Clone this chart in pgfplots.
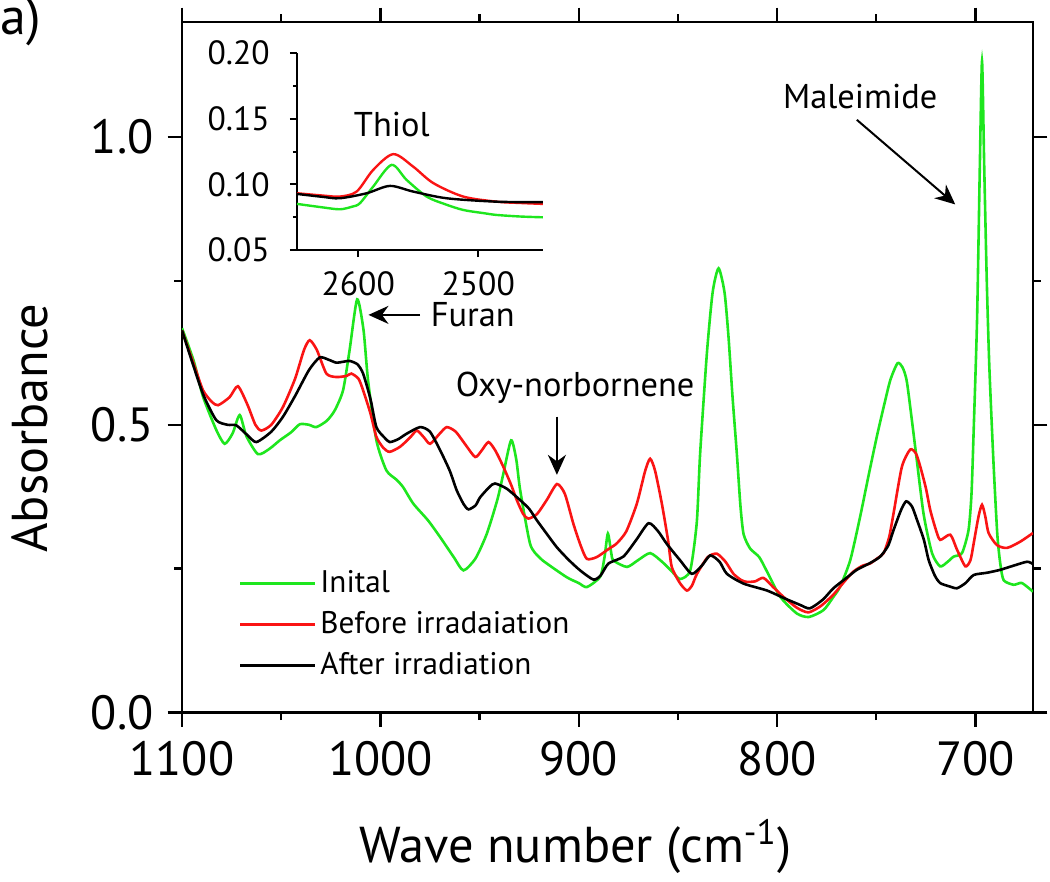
\documentclass[border=0pt]{standalone}
\usepackage{pgfplots}
\pgfplotsset{compat=1.18}
\usepackage{fontspec}
\setmainfont{PT Sans}
\usetikzlibrary{arrows.meta}
\definecolor{cgreen}{RGB}{30,230,30}
\definecolor{cred}{RGB}{250,20,20}
\begin{document}
\begin{tikzpicture}
\begin{axis}[
 at={(0pt,0pt)}, anchor=south west,
 scale only axis, width=212.75pt, height=172.625pt,
 xmin=671, xmax=1100, x dir=reverse,
 ymin=0, ymax=1.2,
 xtick={700,800,900,1000,1100},
 minor xtick={750,850,950,1050},
 ytick={0,0.5,1},
 minor ytick={0.25,0.75},
 tick align=outside,
 major tick length=3.6pt, minor tick length=1.9pt,
 axis line style={line width=0.6pt},
 every tick/.style={line width=0.6pt, black},
 /pgf/number format/assume math mode=true,
 xticklabel style={font=\fontsize{12}{14}\selectfont, /pgf/number format/1000 sep={}},
 yticklabel style={font=\fontsize{12}{14}\selectfont, /pgf/number format/.cd, fixed, fixed zerofill, precision=1},
 xlabel={Wave number (cm\textsuperscript{-1})},
 ylabel={Absorbance},
 label style={font=\fontsize{12.6}{15}\selectfont},
 xlabel style={at={(axis description cs:0.463,-0.2166)}, anchor=base},
 ylabel style={at={(axis description cs:-0.1575,0.412)}, anchor=base},
 legend style={at={(axis description cs:0.0658,0.2155)}, anchor=north west, draw=none, fill=none,
   inner sep=0pt, font=\fontsize{7.8}{9}\selectfont, row sep=0.6pt,
   nodes={inner sep=1pt, text height=6pt, text depth=1.6pt}},
 legend cell align=left,
 legend image code/.code={\draw[#1] (0pt,0pt) -- (18.75pt,0pt);},
 every axis plot/.append style={line width=0.65pt, smooth, tension=0.4},
]
\addplot[cgreen] coordinates {
(1100,0.668) (1094,0.610) (1089.4,0.549) (1082.7,0.491) (1078.5,0.467) (1074.5,0.485)
(1070.9,0.517) (1067.5,0.480) (1061.7,0.449) (1056,0.458) (1050.7,0.473) (1045,0.487)
(1040.6,0.501) (1036,0.500) (1032.3,0.496) (1027,0.507) (1023.0,0.525) (1018.8,0.56)
(1015.5,0.63) (1011.7,0.718) (1008.5,0.665) (1006.2,0.577) (1002.0,0.473) (997.0,0.421)
(992,0.405) (988.6,0.392) (983.4,0.363) (976,0.334) (969.9,0.305) (963,0.270) (958.1,0.247)
(952,0.268) (946.3,0.311) (941,0.370) (938.0,0.415) (934.1,0.473) (931.5,0.44) (929.5,0.386)
(924.5,0.293) (920,0.270) (916.1,0.259) (906.0,0.235) (900,0.225) (895.9,0.218) (889.2,0.236)
(887,0.270) (885.3,0.311) (883.5,0.275) (882.5,0.264) (875.7,0.253) (870,0.265) (864.0,0.277)
(858,0.262) (853,0.245) (848.9,0.232) (843.8,0.247) (840.5,0.33) (838.8,0.45) (835.4,0.624)
(832.5,0.73) (829.5,0.772) (826.5,0.73) (824.5,0.653) (822.5,0.55) (820.3,0.45) (818.5,0.36)
(816.9,0.31) (813.6,0.285) (809,0.27) (805.1,0.245) (798.4,0.201) (790.0,0.172) (784,0.166)
(776.6,0.178) (771.6,0.201) (768.2,0.219) (763.1,0.265) (758.1,0.341) (754,0.41) (749.7,0.480)
(746,0.535) (742.9,0.578) (739.3,0.607) (736.8,0.600) (734.5,0.573) (730.4,0.462) (726.2,0.346)
(721.9,0.277) (717.8,0.254) (714,0.262) (711.0,0.271) (706.8,0.277) (703.5,0.317) (702,0.38)
(700.9,0.491) (699.2,0.683) (697.8,0.95) (696.7,1.132) (695.6,0.95) (694.3,0.75) (693.0,0.60)
(690.9,0.433) (689,0.31) (687.5,0.259) (685.8,0.230) (680.8,0.222) (676.6,0.225) (671,0.210)
};
\addlegendentry{Inital}
\addplot[cred] coordinates {
(1100,0.664) (1094,0.605) (1089.4,0.56) (1085,0.540) (1081.8,0.534) (1076,0.548) (1071.8,0.567)
(1067,0.535) (1063,0.500) (1060.0,0.490) (1055,0.500) (1049.1,0.531) (1043,0.580) (1038.5,0.630)
(1035.6,0.647) (1032,0.630) (1027.2,0.589) (1022.2,0.583) (1017,0.585) (1014.6,0.589) (1011,0.580)
(1008.7,0.56) (1005,0.52) (1002.0,0.479) (998.5,0.460) (995.3,0.453) (990,0.462) (985,0.478)
(981.6,0.49) (978,0.478) (974.9,0.467) (970,0.485) (966.5,0.496) (962,0.488) (957,0.465)
(952.2,0.444) (949,0.455) (945.5,0.470) (942,0.455) (938.0,0.427) (934,0.395) (931.2,0.369)
(928,0.345) (925.4,0.337) (921,0.345) (916,0.370) (911.0,0.397) (907,0.380) (902.7,0.328)
(899,0.290) (895.9,0.267) (891,0.270) (885.0,0.284) (880.8,0.294) (876,0.315) (870.7,0.363)
(866.5,0.420) (864.0,0.441) (861.5,0.420) (858.1,0.363) (855,0.300) (853.1,0.253) (849,0.225)
(845.5,0.212) (843,0.220) (840.4,0.241) (835,0.270) (830.4,0.276) (826,0.262) (822.0,0.241)
(818,0.230) (815.2,0.227) (811,0.228) (806.9,0.234) (802,0.218) (796.8,0.201) (790,0.182)
(784.2,0.174) (778,0.185) (771.6,0.205) (766,0.228) (761.5,0.245) (757,0.255) (753.1,0.259)
(749.5,0.268) (746.3,0.277) (743.5,0.305) (741.3,0.346) (737.1,0.427) (732.9,0.457) (730,0.450)
(727.8,0.427) (725,0.39) (722.8,0.352) (720,0.318) (717.8,0.300) (712.7,0.309) (709.3,0.283)
(705.1,0.254) (702.5,0.265) (700.9,0.294) (698.5,0.340) (696.7,0.361) (695,0.340) (693.4,0.312)
(689.2,0.291) (684.1,0.286) (677.4,0.297) (671,0.312)
};
\addlegendentry{Before irradaiation}
\addplot[black] coordinates {
(1100,0.664) (1094,0.600) (1089,0.550) (1082.7,0.508) (1077,0.500) (1072.6,0.499) (1067,0.482)
(1062.5,0.470) (1055,0.488) (1049.1,0.514) (1043,0.550) (1036,0.595) (1030.6,0.617) (1026,0.613)
(1022.2,0.608) (1018,0.610) (1015.4,0.611) (1011.5,0.605) (1008.7,0.589) (1005,0.545) (1002.0,0.496)
(998,0.478) (995.3,0.470) (991,0.475) (987,0.484) (980.0,0.496) (975,0.488) (969.9,0.456)
(965,0.420) (961.5,0.386) (958,0.362) (955.6,0.353) (952,0.360) (949.7,0.374) (945,0.392)
(942.2,0.398) (936.3,0.389) (929.5,0.369) (925,0.354) (921.1,0.334) (916,0.310) (911.0,0.287)
(905,0.265) (899.3,0.247) (892.6,0.231) (889,0.238) (885.0,0.259) (877.5,0.271) (871,0.300)
(864.8,0.329) (860,0.315) (855.6,0.293) (849,0.265) (843.0,0.241) (838,0.255) (833.7,0.273)
(829,0.262) (825.3,0.241) (816.9,0.224) (805.1,0.212) (796,0.198) (788.4,0.187) (783.5,0.181)
(777,0.196) (771.6,0.216) (765,0.234) (759.8,0.248) (753,0.260) (748.0,0.271) (744,0.290)
(741.3,0.317) (737.5,0.352) (734.9,0.367) (732,0.358) (729.5,0.335) (726,0.300) (723.6,0.265)
(720.5,0.238) (717.8,0.225) (713,0.219) (709.3,0.216) (705,0.225) (700.9,0.239) (694,0.243)
(687.5,0.248) (681,0.255) (674.0,0.262) (671,0.258)
};
\addlegendentry{After irradiation}
% annotations
\draw[-{Stealth[length=5pt,width=4.5pt]}, line width=0.5pt] (axis cs:980,0.691) -- (axis cs:1006,0.691);
\node[anchor=west, inner sep=0pt, font=\fontsize{8.6}{10}\selectfont] at (axis cs:975,0.691) {Furan};
\node[anchor=base, inner sep=0pt, font=\fontsize{8.6}{10}\selectfont] at (axis cs:901.8,0.549) {Oxy-norbornene};
\draw[-{Stealth[length=5pt,width=4.5pt]}, line width=0.5pt] (axis cs:911,0.514) -- (axis cs:911,0.413);
\node[anchor=base, inner sep=0pt, font=\fontsize{8.6}{10}\selectfont] at (axis cs:758.1,1.0496) {Maleimide};
\draw[-{Stealth[length=5pt,width=4.5pt]}, line width=0.5pt] (axis cs:759.8,1.030) -- (axis cs:710.2,0.883);
\end{axis}
\begin{axis}[
 at={(28.75pt,115.625pt)}, anchor=south west,
 scale only axis, width=61.5pt, height=49.25pt,
 xmin=2446, xmax=2651, x dir=reverse,
 ymin=0.05, ymax=0.20,
 axis x line=bottom, axis y line=left,
 axis line style={-, line width=0.5pt},
 x axis line style={-}, y axis line style={-},
 tick align=outside,
 xtick={2500,2600}, ytick={0.05,0.10,0.15,0.20},
 minor ytick={0.075,0.125,0.175},
 major tick length=1.8pt, minor tick length=1pt,
 every tick/.style={line width=0.5pt, black},
 /pgf/number format/assume math mode=true,
 xticklabel style={font=\fontsize{8.4}{10}\selectfont, /pgf/number format/1000 sep={}},
 yticklabel style={font=\fontsize{8.4}{10}\selectfont, xshift=-1.5pt, /pgf/number format/.cd, fixed, fixed zerofill, precision=2},
 every axis plot/.append style={line width=0.6pt, smooth, tension=0.5},
]
\addplot[cgreen] coordinates {
(2651,0.0851) (2630,0.0825) (2615.3,0.081) (2605,0.0830) (2598.6,0.0856) (2587.5,0.0983)
(2572.2,0.1148) (2559.7,0.1034) (2543,0.0907) (2528,0.0850) (2512.5,0.0805) (2495,0.0780)
(2484.7,0.0767) (2465,0.0755) (2446,0.0749)
};
\addplot[cred] coordinates {
(2651,0.0932) (2630,0.0915) (2615.3,0.0907) (2601.3,0.0945) (2587.5,0.111) (2570.8,0.123)
(2554.2,0.1135) (2537.5,0.101) (2512.5,0.0907) (2484.7,0.0868) (2465,0.0858) (2446,0.0851)
};
\addplot[black] coordinates {
(2651,0.0927) (2630,0.0905) (2615.3,0.0894) (2593,0.0932) (2573.6,0.0988) (2554.2,0.0945)
(2526.3,0.0894) (2484.7,0.0868) (2446,0.0864)
};
\node[anchor=base, inner sep=0pt, font=\fontsize{8.6}{10}\selectfont] at (axis cs:2572,0.1362) {Thiol};
\end{axis}
\node[anchor=base west, inner sep=0pt, font=\fontsize{13}{15}\selectfont] at (-45.5pt,169.4pt) {a)};
\pgfresetboundingbox
\path[use as bounding box] (-45.5pt,-42.125pt) rectangle (217pt,178.125pt);
\end{tikzpicture}
\end{document}
